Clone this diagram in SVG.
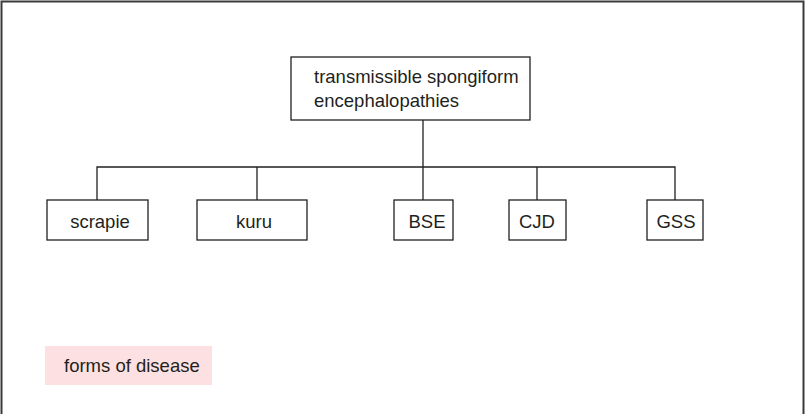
<svg xmlns="http://www.w3.org/2000/svg" width="805" height="414" viewBox="0 0 805 414">
<style>
.box{fill:#fff;stroke:#231f20;stroke-width:1.3}
.t{font-family:"Liberation Sans",Arial,sans-serif;font-size:18.5px;fill:#231f20}
.c{text-anchor:middle}
.ln{fill:none;stroke:#231f20;stroke-width:1.3}
</style>
<rect width="805" height="414" fill="#fff"/>
<path d="M1.5,414 V1.5 H803.5 V414" fill="none" stroke="#3a3a3a" stroke-width="2"/>
<g id="connectors">
<path class="ln" d="M423,120 V167"/>
<path class="ln" d="M97,200 V167 H675 V200"/>
<path class="ln" d="M257,167 V200"/>
<path class="ln" d="M423,167 V200"/>
<path class="ln" d="M537,167 V200"/>
</g>
<g id="tse">
<rect class="box" x="291" y="57" width="239" height="63"/>
<text class="t" x="314" y="83">transmissible spongiform</text>
<text class="t" x="314" y="107">encephalopathies</text>
</g>
<g id="scrapie">
<rect class="box" x="47" y="200" width="101" height="40"/>
<text class="t c" x="100" y="228">scrapie</text>
</g>
<g id="kuru">
<rect class="box" x="197" y="200" width="110" height="40"/>
<text class="t c" x="254" y="228">kuru</text>
</g>
<g id="bse">
<rect class="box" x="394" y="200" width="59" height="40"/>
<text class="t c" x="427" y="228">BSE</text>
</g>
<g id="cjd">
<rect class="box" x="509" y="200" width="57" height="40"/>
<text class="t c" x="537" y="228">CJD</text>
</g>
<g id="gss">
<rect class="box" x="647" y="200" width="56" height="40"/>
<text class="t c" x="676" y="228">GSS</text>
</g>
<g id="legend">
<rect x="45" y="346" width="167" height="39" fill="#fde1e2"/>
<text class="t" x="64" y="372">forms of disease</text>
</g>
</svg>
